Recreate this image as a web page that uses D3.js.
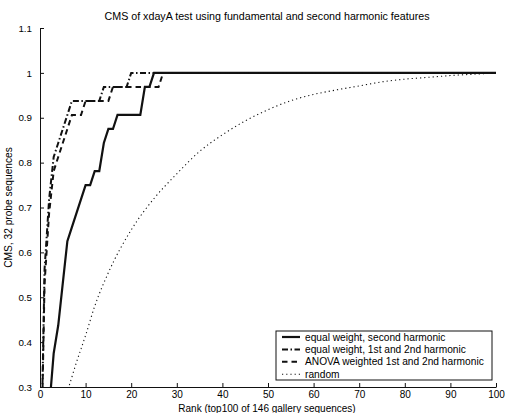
<!DOCTYPE html>
<html>
<head>
<meta charset="utf-8">
<script src="https://cdn.jsdelivr.net/npm/d3@7"></script>
<style>
  body { margin: 0; background: #fff; }
  svg { display: block; font-family: "Liberation Sans", Arial, sans-serif; }
</style>
</head>
<body>
<svg id="chart"></svg>
<script>
// Values (CMS at each rank, 32 probes)
const solidRanks = [0, 1, 2, 3, 4, 5, 6, 7, 8, 9, 10, 11, 12, 13, 14, 15, 16, 17, 22, 23, 24, 25, 100];
const solidCms   = [0, 0.12, 0.25, 0.375, 0.4375, 0.53125, 0.625, 0.65625, 0.6875, 0.71875, 0.75, 0.75, 0.78125, 0.78125, 0.84375, 0.875, 0.875, 0.90625, 0.90625, 0.96875, 0.96875, 1, 1];

const equalRanks = [0, 1, 2, 3, 4, 5, 6, 7, 13, 14, 19, 20, 100];
const equalCms   = [0, 0.5625, 0.71875, 0.8125, 0.84375, 0.875, 0.90625, 0.9375, 0.9375, 0.96875, 0.96875, 1, 1];

const anovaRanks = [0, 1, 2, 3, 4, 5, 6, 7, 9, 10, 15, 16, 26, 27, 100];
const anovaCms   = [0, 0.53125, 0.6875, 0.78125, 0.8125, 0.84375, 0.875, 0.90625, 0.90625, 0.9375, 0.9375, 0.96875, 0.96875, 1, 1];

const randomRanks = [5, 6, 8, 10, 12, 15, 20, 25, 30, 35, 40, 45, 50, 55, 60, 65, 70, 75, 80, 85, 90, 95, 100];
const randomCms   = [0.26, 0.29, 0.355, 0.415, 0.48, 0.555, 0.65, 0.72, 0.775, 0.825, 0.862, 0.893, 0.918, 0.938, 0.952, 0.962, 0.971, 0.98, 0.986, 0.99, 0.994, 0.997, 1];

const legendLabels = [
  "equal weight, second harmonic",
  "equal weight, 1st and 2nd harmonic",
  "ANOVA weighted 1st and 2nd harmonic",
  "random"
];
const xTicks = [0, 10, 20, 30, 40, 50, 60, 70, 80, 90, 100];
const yTicks = [0.3, 0.4, 0.5, 0.6, 0.7, 0.8, 0.9, 1, 1.1];

// Sizes
const width = 505;
const height = 413;
const marginTop = 28;
const marginRight = 9;
const marginBottom = 26;
const marginLeft = 40;

const svg = d3.select("#chart")
    .attr("width", width)
    .attr("height", height)
    .attr("viewBox", [0, 0, width, height]);

const x = d3.scaleLinear().domain([0, 100]).range([marginLeft, width - marginRight]);
const y = d3.scaleLinear().domain([0.3, 1.1]).range([height - marginBottom, marginTop]);

// Title
svg.append("text")
    .attr("x", 267)
    .attr("y", 19.5)
    .attr("text-anchor", "middle")
    .attr("font-size", 10.7)
    .attr("fill", "#000")
    .text("CMS of xdayA test using fundamental and second harmonic features");

// Clip to the axes area
svg.append("clipPath").attr("id", "plot-clip")
  .append("rect")
    .attr("x", marginLeft)
    .attr("y", marginTop)
    .attr("width", width - marginLeft - marginRight)
    .attr("height", height - marginTop - marginBottom);

const series = [
  { ranks: solidRanks, cms: solidCms, width: 2.2, dash: null },
  { ranks: equalRanks, cms: equalCms, width: 2, dash: "6,2.5,1.5,2.5" },
  { ranks: anovaRanks, cms: anovaCms, width: 2, dash: "5.5,4" },
  { ranks: randomRanks, cms: randomCms, width: 1.1, dash: "1.2,3" }
];

const line = d3.line()
    .x(d => x(d[0]))
    .y(d => y(d[1]));

const lineRandom = d3.line()
    .curve(d3.curveMonotoneX)
    .x(d => x(d[0]))
    .y(d => y(d[1]));

const plot = svg.append("g").attr("clip-path", "url(#plot-clip)");

series.forEach((s, i) => {
  const pts = s.ranks.map((r, j) => [r, s.cms[j]]);
  plot.append("path")
      .datum(pts)
      .attr("fill", "none")
      .attr("stroke", "#111")
      .attr("stroke-width", s.width)
      .attr("stroke-dasharray", s.dash)
      .attr("d", i === 3 ? lineRandom : line);
});

// Axes (MATLAB style: ticks inward, no box)
const fmt = d => d === 1 ? "1" : d3.format(".1f")(d);

svg.append("g")
    .attr("transform", `translate(0,${height - marginBottom})`)
    .call(d3.axisBottom(x).tickValues(xTicks).tickSizeInner(-4).tickSizeOuter(0).tickPadding(4))
    .call(g => g.selectAll("text").attr("font-size", 10).attr("fill", "#000"))
    .call(g => g.selectAll("line, path").attr("stroke", "#111"))
    .call(g => g.append("text")
        .attr("x", 267)
        .attr("y", 25)
        .attr("fill", "#000")
        .attr("font-size", 10)
        .attr("text-anchor", "middle")
        .text("Rank (top100 of 146 gallery sequences)"));

svg.append("g")
    .attr("transform", `translate(${marginLeft},0)`)
    .call(d3.axisLeft(y).tickValues(yTicks).tickFormat(fmt).tickSizeInner(-4).tickSizeOuter(0).tickPadding(8))
    .call(g => g.selectAll("text").attr("font-size", 9.8).attr("fill", "#000"))
    .call(g => g.selectAll("line, path").attr("stroke", "#111"))
    .call(g => g.append("text")
        .attr("transform", `translate(${9 - marginLeft},${(marginTop + height - marginBottom) / 2}) rotate(-90)`)
        .attr("dy", "0.32em")
        .attr("fill", "#000")
        .attr("font-size", 10.2)
        .attr("text-anchor", "middle")
        .text("CMS, 32 probe sequences"));

// Legend
const legend = svg.append("g").attr("transform", "translate(276,331)");
legend.append("rect")
    .attr("width", 216)
    .attr("height", 49)
    .attr("fill", "#fff")
    .attr("stroke", "#111")
    .attr("stroke-width", 1);

legendLabels.forEach((label, i) => {
  const row = legend.append("g").attr("transform", `translate(0,${6 + i * 12.4})`);
  row.append("line")
      .attr("x1", 6).attr("x2", 24)
      .attr("stroke", "#111")
      .attr("stroke-width", series[i].width)
      .attr("stroke-dasharray", series[i].dash);
  row.append("text")
      .attr("x", 29)
      .attr("dy", "0.35em")
      .attr("font-size", 10.2)
      .attr("fill", "#000")
      .text(label);
});
</script>
</body>
</html>
